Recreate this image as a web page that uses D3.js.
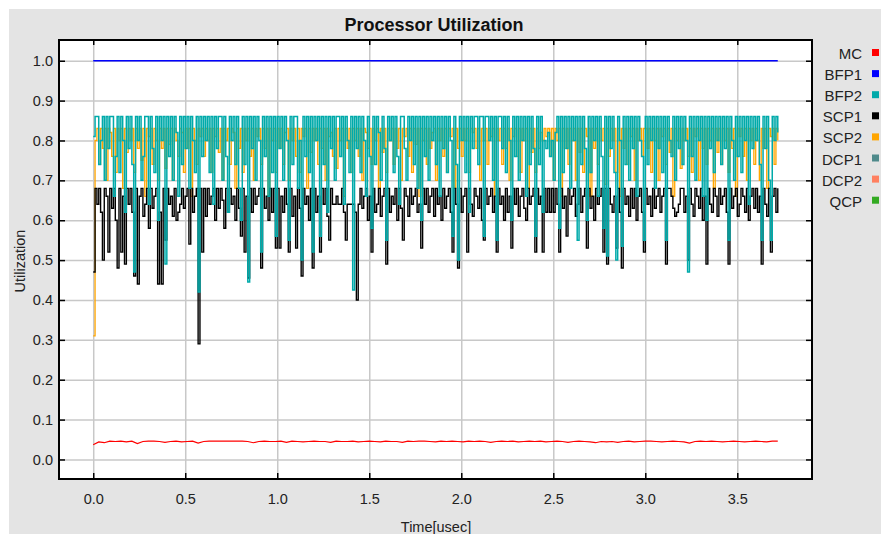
<!DOCTYPE html>
<html>
<head>
<meta charset="utf-8">
<script src="https://cdn.jsdelivr.net/npm/d3@7"></script>
<style>
  body { margin: 0; background: #fff; }
  svg { display: block; font-family: "Liberation Sans", Arial, sans-serif; }
</style>
</head>
<body>
<div class="graph"></div>
<script>
// samples are spread evenly from 0 to timeEnd (usec)
const timeEnd = 3.72

const seriesNames = ["MC", "BFP1", "BFP2", "SCP1", "SCP2", "DCP1", "DCP2", "QCP"]
const seriesColors = ["#ff0000", "#0000ff", "#00aaaa", "#000000", "#ffa500", "#4f8a8b", "#ff8060", "#33aa22"]

const xTicks = [0, 0.5, 1.0, 1.5, 2.0, 2.5, 3.0, 3.5]
const yTicks = [0, 0.1, 0.2, 0.3, 0.4, 0.5, 0.6, 0.7, 0.8, 0.9, 1.0]

const mcUtil = [
  0.037,0.044,0.042,0.046,0.045,0.046,0.044,0.046,0.040,0.045,0.046,0.046,0.045,0.043,0.045,0.046,0.044,0.045,0.046,0.041,0.045,0.046,0.046,0.046,0.046,
  0.046,0.046,0.046,0.045,0.042,0.045,0.046,0.045,0.045,0.046,0.043,0.046,0.045,0.044,0.045,0.046,0.045,0.045,0.043,0.046,0.045,0.045,0.046,0.044,0.045,
  0.046,0.045,0.044,0.046,0.045,0.045,0.043,0.046,0.045,0.046,0.046,0.045,0.044,0.046,0.045,0.046,0.045,0.044,0.046,0.045,0.046,0.045,0.043,0.045,0.046,
  0.045,0.046,0.044,0.045,0.046,0.045,0.046,0.044,0.045,0.046,0.045,0.043,0.045,0.046,0.045,0.044,0.042,0.045,0.044,0.045,0.043,0.045,0.046,0.044,0.045,
  0.046,0.046,0.045,0.044,0.045,0.046,0.045,0.044,0.041,0.045,0.046,0.045,0.046,0.045,0.044,0.045,0.046,0.045,0.044,0.045,0.046,0.045,0.044,0.046,0.046
]

const bfp1Util = [1.0, 1.0]

// one row = 0.2 usec
const bfp2Util = [
  0.81,0.86,0.86,0.74,0.80,0.86,0.70,0.86,0.78,0.86,0.86,0.66,0.76,0.86,0.72,0.86,0.80,0.62,0.86,0.78,
  0.86,0.74,0.47,0.86,0.80,0.86,0.70,0.76,0.86,0.86,0.64,0.86,0.78,0.72,0.86,0.60,0.86,0.80,0.86,0.49,
  0.86,0.76,0.86,0.70,0.86,0.82,0.66,0.86,0.74,0.86,0.78,0.86,0.68,0.86,0.80,0.72,0.86,0.42,0.86,0.76,
  0.86,0.80,0.86,0.72,0.86,0.64,0.86,0.78,0.86,0.86,0.70,0.86,0.76,0.62,0.86,0.80,0.86,0.74,0.86,0.68,
  0.60,0.86,0.74,0.86,0.445,0.86,0.78,0.86,0.70,0.86,0.80,0.52,0.86,0.76,0.86,0.66,0.86,0.72,0.86,0.56,
  0.86,0.78,0.86,0.70,0.86,0.80,0.55,0.86,0.74,0.86,0.86,0.68,0.80,0.50,0.86,0.76,0.86,0.72,0.86,0.52,
  0.86,0.80,0.86,0.56,0.86,0.74,0.86,0.62,0.86,0.78,0.86,0.70,0.86,0.86,0.76,0.86,0.64,0.86,0.80,0.72,
  0.86,0.425,0.86,0.78,0.86,0.72,0.86,0.80,0.66,0.86,0.76,0.58,0.86,0.74,0.86,0.82,0.70,0.86,0.78,0.55,
  0.86,0.80,0.86,0.72,0.86,0.76,0.64,0.86,0.86,0.78,0.70,0.86,0.80,0.86,0.74,0.86,0.68,0.86,0.60,0.86,
  0.76,0.86,0.70,0.86,0.80,0.86,0.74,0.86,0.66,0.86,0.78,0.86,0.72,0.86,0.80,0.56,0.86,0.74,0.50,0.86,
  0.80,0.86,0.72,0.86,0.62,0.86,0.78,0.86,0.86,0.74,0.86,0.86,0.56,0.86,0.86,0.80,0.86,0.70,0.86,0.55,
  0.86,0.86,0.78,0.86,0.72,0.86,0.80,0.60,0.86,0.76,0.86,0.70,0.86,0.80,0.86,0.66,0.86,0.74,0.86,0.78,
  0.56,0.86,0.74,0.86,0.62,0.80,0.78,0.82,0.76,0.80,0.70,0.82,0.86,0.58,0.86,0.72,0.86,0.78,0.86,0.68,
  0.86,0.80,0.86,0.55,0.86,0.74,0.86,0.78,0.60,0.86,0.72,0.86,0.80,0.86,0.66,0.86,0.76,0.58,0.86,0.51,
  0.86,0.78,0.86,0.72,0.50,0.86,0.80,0.535,0.86,0.74,0.86,0.70,0.86,0.78,0.86,0.66,0.86,0.80,0.76,0.55,
  0.86,0.74,0.86,0.80,0.86,0.68,0.86,0.78,0.86,0.72,0.86,0.55,0.86,0.80,0.76,0.86,0.70,0.86,0.78,0.86,
  0.74,0.86,0.80,0.47,0.86,0.76,0.86,0.70,0.86,0.80,0.86,0.66,0.86,0.60,0.86,0.78,0.86,0.72,0.86,0.80,
  0.86,0.74,0.86,0.78,0.86,0.55,0.86,0.80,0.70,0.86,0.76,0.86,0.72,0.86,0.80,0.86,0.64,0.86,0.78,0.86,
  0.80,0.86,0.74,0.55,0.86,0.78,0.86,0.70,0.55,0.86,0.80,0.86,0.82
]

const scp1Util = [
  0.47,0.68,0.64,0.68,0.62,0.50,0.68,0.66,0.52,0.68,0.63,0.68,0.60,0.48,0.68,0.52,0.66,0.49,0.68,0.64,
  0.68,0.62,0.46,0.68,0.44,0.66,0.68,0.61,0.64,0.68,0.58,0.68,0.63,0.66,0.68,0.44,0.62,0.44,0.68,0.55,
  0.68,0.64,0.66,0.61,0.68,0.60,0.62,0.64,0.68,0.63,0.66,0.68,0.54,0.68,0.62,0.66,0.68,0.29,0.68,0.52,
  0.68,0.61,0.68,0.64,0.66,0.68,0.60,0.68,0.63,0.68,0.65,0.58,0.68,0.62,0.68,0.64,0.66,0.60,0.68,0.63,
  0.56,0.68,0.52,0.66,0.455,0.68,0.62,0.68,0.64,0.66,0.68,0.48,0.68,0.63,0.66,0.60,0.68,0.62,0.68,0.53,
  0.68,0.53,0.66,0.62,0.68,0.64,0.52,0.68,0.61,0.66,0.53,0.68,0.63,0.46,0.68,0.64,0.66,0.60,0.68,0.48,
  0.68,0.62,0.66,0.52,0.68,0.64,0.68,0.61,0.55,0.68,0.64,0.64,0.66,0.64,0.64,0.68,0.62,0.55,0.64,0.64,
  0.64,0.64,0.62,0.40,0.64,0.68,0.63,0.66,0.68,0.60,0.66,0.52,0.68,0.62,0.64,0.68,0.61,0.66,0.68,0.49,
  0.68,0.62,0.66,0.64,0.68,0.60,0.68,0.63,0.55,0.68,0.66,0.61,0.68,0.64,0.66,0.68,0.62,0.64,0.53,0.68,
  0.64,0.68,0.62,0.66,0.68,0.61,0.68,0.64,0.66,0.60,0.68,0.63,0.66,0.68,0.62,0.52,0.68,0.64,0.48,0.68,
  0.62,0.66,0.68,0.52,0.68,0.64,0.61,0.68,0.66,0.63,0.68,0.60,0.55,0.68,0.64,0.66,0.68,0.62,0.66,0.52,
  0.68,0.64,0.66,0.60,0.68,0.62,0.66,0.53,0.68,0.64,0.68,0.61,0.66,0.68,0.63,0.60,0.68,0.64,0.66,0.68,
  0.52,0.68,0.64,0.66,0.52,0.68,0.62,0.68,0.62,0.68,0.62,0.68,0.64,0.52,0.68,0.63,0.66,0.56,0.68,0.64,
  0.66,0.68,0.61,0.64,0.68,0.62,0.66,0.68,0.53,0.68,0.63,0.66,0.60,0.68,0.64,0.66,0.68,0.52,0.68,0.49,
  0.68,0.64,0.62,0.66,0.53,0.68,0.62,0.48,0.68,0.64,0.66,0.61,0.68,0.63,0.68,0.60,0.66,0.68,0.62,0.52,
  0.68,0.64,0.66,0.61,0.68,0.63,0.66,0.68,0.62,0.66,0.68,0.49,0.68,0.68,0.66,0.63,0.61,0.62,0.64,0.68,
  0.68,0.62,0.66,0.50,0.68,0.64,0.61,0.68,0.66,0.63,0.68,0.60,0.66,0.49,0.68,0.64,0.62,0.68,0.66,0.61,
  0.68,0.64,0.66,0.68,0.62,0.49,0.68,0.63,0.66,0.68,0.61,0.64,0.68,0.66,0.62,0.68,0.60,0.66,0.68,0.63,
  0.68,0.62,0.66,0.49,0.68,0.64,0.61,0.68,0.52,0.66,0.68,0.62,0.68
]

const scp2Util = [
  0.31,0.80,0.83,0.74,0.83,0.78,0.83,0.70,0.83,0.82,0.76,0.83,0.72,0.83,0.80,0.83,0.68,0.83,0.77,0.83,
  0.80,0.83,0.72,0.83,0.78,0.83,0.75,0.83,0.66,0.83,0.81,0.83,0.74,0.83,0.80,0.70,0.83,0.78,0.83,0.73,
  0.83,0.79,0.83,0.70,0.83,0.80,0.76,0.83,0.82,0.72,0.83,0.78,0.83,0.66,0.83,0.80,0.74,0.83,0.81,0.83,
  0.76,0.83,0.80,0.83,0.72,0.83,0.81,0.83,0.77,0.83,0.70,0.83,0.80,0.83,0.74,0.83,0.82,0.68,0.83,0.78,
  0.83,0.72,0.83,0.80,0.83,0.76,0.83,0.70,0.83,0.81,0.83,0.74,0.83,0.78,0.83,0.66,0.83,0.80,0.83,0.72,
  0.83,0.78,0.83,0.74,0.82,0.83,0.70,0.83,0.80,0.83,0.76,0.83,0.72,0.83,0.81,0.83,0.68,0.83,0.77,0.83,
  0.80,0.83,0.74,0.83,0.78,0.83,0.70,0.83,0.81,0.82,0.76,0.83,0.73,0.83,0.80,0.83,0.66,0.83,0.78,0.83,
  0.72,0.83,0.80,0.83,0.76,0.83,0.70,0.83,0.82,0.78,0.83,0.74,0.83,0.80,0.83,0.68,0.83,0.77,0.83,0.72,
  0.83,0.80,0.83,0.74,0.83,0.78,0.83,0.70,0.83,0.81,0.83,0.76,0.83,0.72,0.83,0.79,0.83,0.66,0.83,0.80,
  0.83,0.74,0.83,0.78,0.82,0.83,0.70,0.83,0.80,0.83,0.76,0.83,0.72,0.83,0.81,0.83,0.68,0.83,0.78,0.83,
  0.76,0.83,0.80,0.83,0.72,0.83,0.82,0.83,0.78,0.83,0.70,0.83,0.80,0.83,0.74,0.83,0.81,0.83,0.66,0.83,
  0.80,0.83,0.74,0.83,0.78,0.83,0.70,0.83,0.81,0.83,0.76,0.83,0.72,0.83,0.80,0.83,0.68,0.83,0.77,0.83,
  0.72,0.83,0.78,0.82,0.80,0.83,0.81,0.83,0.76,0.83,0.70,0.83,0.80,0.83,0.66,0.83,0.78,0.83,0.74,0.83,
  0.80,0.83,0.70,0.83,0.77,0.83,0.72,0.83,0.81,0.83,0.66,0.83,0.78,0.83,0.74,0.83,0.80,0.83,0.69,0.83,
  0.76,0.83,0.80,0.83,0.72,0.83,0.66,0.83,0.78,0.83,0.74,0.83,0.81,0.83,0.70,0.83,0.80,0.83,0.76,0.83,
  0.83,0.78,0.83,0.72,0.83,0.80,0.83,0.70,0.83,0.81,0.83,0.74,0.83,0.77,0.83,0.66,0.83,0.80,0.83,0.73,
  0.83,0.80,0.83,0.76,0.83,0.72,0.83,0.81,0.83,0.70,0.83,0.78,0.83,0.74,0.83,0.80,0.83,0.68,0.83,0.77,
  0.83,0.74,0.83,0.80,0.83,0.72,0.83,0.78,0.83,0.66,0.83,0.81,0.83,0.76,0.83,0.70,0.83,0.80,0.83,0.74,
  0.83,0.80,0.70,0.83,0.78,0.83,0.68,0.83,0.81,0.83,0.74,0.83,0.80
]

const dcp1Util = []
const dcp2Util = []
const qcpUtil = []

const allSeries = [mcUtil, bfp1Util, bfp2Util, scp1Util, scp2Util, dcp1Util, dcp2Util, qcpUtil]
const strokeWidths = [1.2, 1.4, 1.5, 1.4, 1.3, 1.2, 1.2, 1.2]

const W = 881, H = 534
const plot = { left: 59, top: 40, right: 812, bottom: 479 }

const svg = d3.select(".graph").append("svg").attr("width", W).attr("height", H)

svg.append("rect").attr("x", 9).attr("y", 9).attr("width", W - 9).attr("height", H - 9).attr("fill", "#e4e4e4")
svg.append("rect")
  .attr("x", plot.left).attr("y", plot.top)
  .attr("width", plot.right - plot.left).attr("height", plot.bottom - plot.top)
  .attr("fill", "#fff")

const xScale = d3.scaleLinear().domain([-0.186, 3.906]).range([plot.left, plot.right])
const yScale = d3.scaleLinear().domain([-0.049, 1.052]).range([plot.bottom, plot.top])
const fmt = d3.format(".1f")

// grid
svg.append("g").attr("class", "grid")
  .attr("transform", "translate(0," + plot.bottom + ")")
  .call(d3.axisBottom(xScale).tickValues(xTicks).tickSize(-(plot.bottom - plot.top)).tickFormat(""))
svg.append("g").attr("class", "grid")
  .attr("transform", "translate(" + plot.left + ",0)")
  .call(d3.axisLeft(yScale).tickValues(yTicks).tickSize(-(plot.right - plot.left)).tickFormat(""))
svg.selectAll(".grid line").attr("stroke", "#c8c8c8").attr("stroke-width", 1.5)
svg.selectAll(".grid .domain").remove()

// lines, last legend entry underneath
const line = d3.line().x(d => xScale(d[0])).y(d => yScale(d[1]))
for (let s = allSeries.length - 1; s >= 0; s--) {
  const vals = allSeries[s]
  if (vals.length < 2) continue
  const pts = vals.map((v, i) => [i * timeEnd / (vals.length - 1), v])
  const curve = (s === 0 || s === 1) ? d3.curveLinear : d3.curveStepAfter
  svg.append("path")
    .datum(pts)
    .attr("fill", "none")
    .attr("stroke", seriesColors[s])
    .attr("stroke-width", strokeWidths[s])
    .attr("d", line.curve(curve))
}

// axes with inward ticks
const axisFont = g => g.selectAll("text").attr("font-size", 14.5).attr("fill", "#222")
svg.append("g").attr("transform", "translate(" + plot.left + ",0)")
  .call(d3.axisLeft(yScale).tickValues(yTicks).tickSize(-6).tickPadding(6).tickFormat(fmt))
  .call(axisFont)
svg.append("g").attr("transform", "translate(0," + plot.bottom + ")")
  .call(d3.axisBottom(xScale).tickValues(xTicks).tickSize(-6).tickPadding(15).tickFormat(fmt))
  .call(axisFont)
svg.append("g").attr("transform", "translate(0," + plot.top + ")")
  .call(d3.axisTop(xScale).tickValues(xTicks).tickSize(-5).tickFormat(""))
svg.append("g").attr("transform", "translate(" + plot.right + ",0)")
  .call(d3.axisRight(yScale).tickValues(yTicks).tickSize(-6).tickFormat(""))
svg.selectAll(".domain").remove()
svg.selectAll(".tick line").filter(function() { return this.parentNode.parentNode.getAttribute("class") !== "grid" })
  .attr("stroke", "#000").attr("stroke-width", 1.5)

svg.append("rect")
  .attr("x", plot.left).attr("y", plot.top)
  .attr("width", plot.right - plot.left).attr("height", plot.bottom - plot.top)
  .attr("fill", "none").attr("stroke", "#000").attr("stroke-width", 2)

// titles
svg.append("text").attr("x", 434).attr("y", 31).attr("text-anchor", "middle")
  .attr("font-size", 18).attr("font-weight", "bold").attr("fill", "#111").text("Processor Utilization")
svg.append("text").attr("transform", "translate(25,261) rotate(-90)").attr("text-anchor", "middle")
  .attr("font-size", 14.5).attr("fill", "#222").text("Utilization")
svg.append("text").attr("x", 436).attr("y", 532).attr("text-anchor", "middle")
  .attr("font-size", 14.5).attr("fill", "#222").text("Time[usec]")

// legend
const legend = svg.append("g")
seriesNames.forEach((name, i) => {
  const yPos = 59 + i * 21.1
  legend.append("text").attr("x", 862).attr("y", yPos).attr("text-anchor", "end")
    .attr("font-size", 15).attr("fill", "#222").text(name)
  legend.append("rect").attr("x", 872).attr("y", yPos - 10).attr("width", 7).attr("height", 7)
    .attr("fill", seriesColors[i])
})
</script>
</body>
</html>
